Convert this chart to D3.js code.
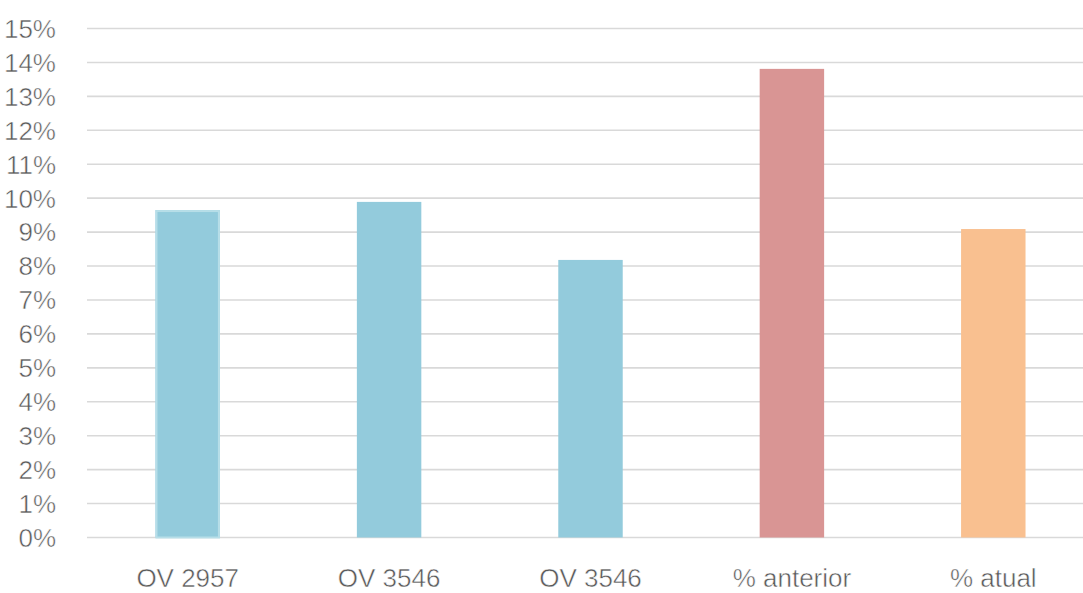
<!DOCTYPE html>
<html><head><meta charset="utf-8">
<script src="https://cdn.jsdelivr.net/npm/d3@7"></script>
<style>body{margin:0;background:#fff}svg{display:block}</style>
</head><body>
<svg id="c" width="1083" height="593"></svg>
<script>
const categories = ["OV 2957", "OV 3546", "OV 3546", "% anterior", "% atual"];
const values = [9.65, 9.89, 8.18, 13.81, 9.09];
const barColors = ["#93CBDC", "#93CBDC", "#93CBDC", "#D99594", "#F9C090"];
const yTicks = [0,1,2,3,4,5,6,7,8,9,10,11,12,13,14,15];

const svg = d3.select("#c");
const x = d3.scaleBand().domain(d3.range(categories.length)).range([87, 1094]).paddingInner(0.68).paddingOuter(0.34);
const y = d3.scaleLinear().domain([0, 15]).range([537.5, 28.5]);
const font = "'Liberation Sans Narrow', 'Arial Narrow', sans-serif";

svg.append("g").selectAll("line").data(yTicks).join("line")
  .attr("x1", 87).attr("x2", 1083)
  .attr("y1", d => y(d)).attr("y2", d => y(d))
  .attr("stroke", "#D9D9D9").attr("stroke-width", 1.6);

svg.append("g").selectAll("text").data(yTicks).join("text")
  .attr("x", 56).attr("y", d => y(d)).attr("dy", "0.36em")
  .attr("text-anchor", "end").attr("fill", "#595959")
  .style("font-family", font).style("font-size", "26px")
  .attr("stroke", "#fff").attr("stroke-width", 0.5)
  .text(d => d + "%");

svg.append("g").selectAll("rect").data(values).join("rect")
  .attr("x", (d, i) => x(i)).attr("width", x.bandwidth())
  .attr("y", d => y(d)).attr("height", d => y(0) - y(d))
  .attr("fill", (d, i) => barColors[i]);

// light outline on first bar
svg.append("rect")
  .attr("x", x(0) + 1).attr("width", x.bandwidth() - 2)
  .attr("y", y(values[0]) + 1).attr("height", y(0) - y(values[0]) - 1)
  .attr("fill", "none").attr("stroke", "#B7DEE8").attr("stroke-width", 2);

svg.append("g").selectAll("text").data(categories).join("text")
  .attr("x", (d, i) => x(i) + x.bandwidth() / 2).attr("y", 587)
  .attr("text-anchor", "middle").attr("fill", "#595959")
  .style("font-family", font).style("font-size", "26px")
  .attr("stroke", "#fff").attr("stroke-width", 0.5)
  .text(d => d);
</script>
</body></html>
